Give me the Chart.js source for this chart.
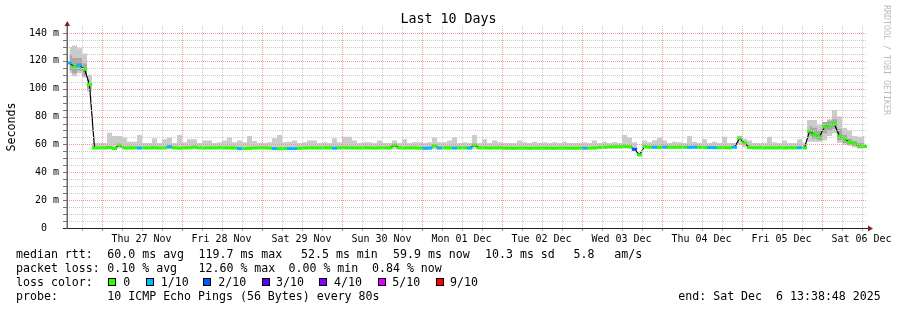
<!DOCTYPE html>
<html>
<head>
<meta charset="utf-8">
<title>Last 10 Days</title>
<script src="https://cdn.jsdelivr.net/npm/chart.js@4.4.1/dist/chart.umd.min.js"></script>
<style>
  html, body { margin: 0; padding: 0; background: #fff; }
  #wrap { position: relative; width: 897px; height: 310px; font-family: "DejaVu Sans Mono", monospace; color: #000; }
  #c { position: absolute; left: 0; top: 0; }
  .t { position: absolute; white-space: pre; font-size: 11.6px; line-height: 14px; }
  .box { position: absolute; width: 6px; height: 6px; border: 1px solid #000; top: 278px; }
  #title { position: absolute; left: 0; width: 897px; top: 11px; text-align: center; font-size: 13.3px; line-height: 16px; }
  #ylab { position: absolute; left: -19px; top: 120px; width: 60px; text-align: center; font-size: 11.6px; line-height: 14px; transform: rotate(-90deg); }
  #mark { position: absolute; left: 882px; top: 5px; writing-mode: vertical-rl; font-size: 8.3px; color: #bbb; white-space: pre; }
</style>
</head>
<body>
<div id="wrap">
  <canvas id="c" width="897" height="310"></canvas>
  <div id="title">Last 10 Days</div>
  <div id="ylab">Seconds</div>
  <div id="mark">RRDTOOL / TOBI OETIKER</div>
  <div id="legend"></div>
</div>
<script>
// ── Data: one column every 1.5 h ────────────────────────────────────────────
const STEP_H = 1.5;
const MIDNIGHT_OFFSET = 10.3533; // Wed 26 Nov 13:38:48 -> Thu 27 Nov 00:00

const dayLabels = ["Thu 27 Nov", "Fri 28 Nov", "Sat 29 Nov", "Sun 30 Nov", "Mon 01 Dec",
                   "Tue 02 Dec", "Wed 03 Dec", "Thu 04 Dec", "Fri 05 Dec", "Sat 06 Dec"];

// median rtt (ms)
const medianMs = [
  118.5, 115.5, 117, 114, 103, 57.5, 57.5, 57.5, 57.8, 57.0, 59.5, 57.5, 57.5, 57.6, 57.4, 57.5,
  57.5, 57.6, 57.4, 57.5, 58.3, 57.5, 57.3, 57.5, 57.6, 58.0, 57.5, 57.4, 57.5, 57.5, 57.6, 57.5,
  57.5, 57.4, 57.0, 57.0, 57.2, 57.4, 57.5, 57.5, 57.3, 57.0, 56.9, 57.0, 57.0, 57.0, 57.2, 57.4,
  57.5, 57.5, 57.4, 57.5, 57.5, 57.3, 57.5, 57.6, 57.5, 57.5, 57.4, 57.5, 57.5, 57.4, 57.5, 57.5,
  57.5, 59.5, 57.5, 57.4, 57.5, 57.5, 57.3, 57.2, 57.3, 59.0, 57.4, 57.5, 57.5, 57.4, 57.5, 57.5,
  57.4, 59.5, 57.5, 57.5, 57.4, 57.5, 57.5, 57.3, 57.3, 57.2, 57.3, 57.3, 57.2, 57.3, 57.3, 57.3,
  57.3, 57.2, 57.3, 57.3, 57.3, 57.2, 57.3, 57.3, 57.3, 57.4, 57.8, 58.0, 58.2, 58.3, 58.3, 58.5,
  58.3, 56.5, 52.5, 58.3, 58.0, 58.0, 57.9, 58.0, 58.0, 57.9, 58.0, 58.0, 57.9, 58.0, 57.9, 57.8,
  57.8, 57.7, 57.7, 57.7, 57.6, 58.0, 64.5, 61.0, 57.8, 57.6, 57.6, 57.5, 57.6, 57.5, 57.6, 57.5,
  57.6, 57.5, 57.6, 57.5, 69.5, 67.0, 65.5, 72.5, 74.0, 74.5, 66.0, 64.0, 61.5, 60.5, 58.8, 58.5
];

// outer smoke: highest and lowest ping (ms)
const smokeTopMs = [
  130, 131, 129, 125, 110, 61, 61, 61, 68.4, 66, 66, 65, 62, 62, 66.8, 61,
  61, 64.4, 61, 63.7, 65, 61, 66.8, 61.5, 63.7, 63.7, 61, 62.8, 62.8, 61, 61.5, 62.8,
  65, 61.5, 62.8, 61.5, 66, 62.5, 61, 61, 61.5, 64.4, 66.8, 61.5, 62, 62.8, 61, 61.5,
  62.8, 62.8, 61, 61.5, 61, 64.4, 61.5, 65.5, 65.5, 62.8, 61, 61.5, 61.5, 61, 62.8, 61,
  61, 62.8, 61, 63.7, 61, 61.5, 61.5, 61, 61.5, 65, 61.5, 61.5, 62.8, 65, 61, 61.5,
  61, 66.8, 61, 63.7, 61, 62.8, 61.5, 61, 61, 61, 62.8, 61.5, 61, 62, 61, 61.5,
  61, 61.5, 61, 62, 61, 61, 61, 61.5, 61, 62.8, 61, 62, 61, 61.5, 61, 66.8,
  65, 61.5, 54, 62.8, 61.5, 63, 65, 62.8, 61, 62, 61.5, 61, 66, 62, 61, 63.7,
  61, 62, 61, 65.5, 61, 61, 66.3, 64, 62.8, 61, 61, 61, 65.5, 61.5, 61, 62.8,
  61, 61, 63.7, 61, 77.5, 77.5, 74, 74, 78, 84.7, 80, 71.8, 70, 66, 65.5, 66
];
const smokeBotMs = [
  111, 109, 111, 108, 98, 56.5, 56.5, 56.5, 56.5, 56, 57, 56.5, 56.5, 56.5, 56.5, 56.5,
  56.5, 56.5, 56.5, 56.5, 56.5, 56.5, 56.5, 56.5, 56.5, 56.5, 56.5, 56.5, 56.5, 56.5, 56.5, 56.5,
  56.5, 56.5, 56, 56, 56, 56.5, 56.5, 56.5, 56.5, 56, 56, 56, 56, 56, 56, 56.5,
  56.5, 56.5, 56.5, 56.5, 56.5, 56.5, 56.5, 56.5, 56.5, 56.5, 56.5, 56.5, 56.5, 56.5, 56.5, 56.5,
  56.5, 56.5, 56.5, 56.5, 56.5, 56.5, 56.5, 56.5, 56.5, 56.5, 56.5, 56.5, 56.5, 56.5, 56.5, 56.5,
  56.5, 56.5, 56.5, 56.5, 56.5, 56.5, 56.5, 56.5, 56.5, 56.5, 56.5, 56.5, 56.5, 56.5, 56.5, 56.5,
  56.5, 56.5, 56.5, 56.5, 56.5, 56.5, 56.5, 56.5, 56.5, 56.5, 57, 57, 57, 57, 57, 57,
  57, 55.5, 52, 57, 57, 57, 57, 57, 57, 57, 57, 57, 57, 57, 57, 57,
  56.5, 56.5, 56.5, 56.5, 56.5, 57, 60, 58, 57, 56.5, 56.5, 56.5, 56.5, 56.5, 56.5, 56.5,
  56.5, 56.5, 56.5, 56.5, 62, 62, 62, 63, 66, 68, 61, 59.5, 59, 58, 57, 57
];

// inner (darker) smoke, only where it shows: first five and last twelve columns
const midTopStart = [124, 122, 122, 118, 106];
const midBotStart = [113, 111, 113, 109, 100];
const MID_END_FROM = 148;
const midTopEnd = [73, 72, 70, 76, 77, 78, 71, 67, 64, 62.5, 61, 61];
const midBotEnd = [66, 64, 63, 68, 70, 71, 63, 61, 60, 59, 57.5, 57.5];

// lost pings per column (out of 10)
const lossTenths = [
  1,0,1,0,0,0,0,0,0,0,0,0,0,0,1,0,
  0,0,0,0,1,0,0,0,0,0,0,0,0,0,0,0,
  0,0,1,0,0,0,0,0,0,1,0,0,1,1,0,0,
  0,0,0,0,0,1,0,0,0,0,0,0,0,0,0,0,
  0,0,0,0,0,0,0,1,1,0,1,0,0,1,0,0,
  1,0,0,0,0,0,0,0,0,0,0,0,0,0,0,0,
  0,0,0,0,0,0,0,1,0,0,0,0,0,0,0,0,
  0,2,0,0,0,1,0,1,0,0,0,0,1,1,0,0,
  1,1,0,0,0,1,0,0,0,0,0,0,0,0,0,0,
  0,0,1,0,0,0,0,0,0,0,0,0,0,0,0,0
];

const LOSS_COLORS = ["#26ff00", "#00b8ff", "#0059ff", "#5e00ff", "#7e00ff",
                     "#dd00ff", "#ff0000", "#ff0000", "#ff0000", "#ff0000", "#ff0000"];
const legendLoss = [["0", 0], ["1/10", 1], ["2/10", 2], ["3/10", 3], ["4/10", 4], ["5/10", 5], ["9/10", 9]];

// ── Helpers ─────────────────────────────────────────────────────────────────
const FONT = "DejaVu Sans Mono";
const GRID_MINOR = "#cbcbcb";
const GRID_MAJOR = "#f59a9a";
const X_TICKS = [];
for (let h = -6; h <= 228; h += 6) X_TICKS.push(h);
const Y_TICKS = [];
for (let v = 0; v <= 140; v += 5) Y_TICKS.push(v);
const xMajor = i => X_TICKS[i] % 24 === 0;
const yMajor = i => Y_TICKS[i] % 20 === 0;
const xAt = i => i * STEP_H + STEP_H / 2 - MIDNIGHT_OFFSET;
const pts = arr => arr.map((v, i) => ({ x: xAt(i), y: v }));

const midTop = medianMs.map(() => null);
const midBot = medianMs.map(() => null);
midTopStart.forEach((v, i) => { midTop[i] = v; midBot[i] = midBotStart[i]; });
midTopEnd.forEach((v, i) => { midTop[MID_END_FROM + i] = v; midBot[MID_END_FROM + i] = midBotEnd[i]; });

// ── Dotted rrdtool grid, drawn over the smoke ───────────────────────────────
const rrdGrid = {
  id: "rrdGrid",
  afterDatasetsDraw(chart) {
    const { ctx, chartArea: a, scales: { x, y } } = chart;
    ctx.save();
    ctx.lineWidth = 1;
    ctx.setLineDash([1, 1]);
    const line = (x0, y0, x1, y1, col) => {
      ctx.strokeStyle = col;
      ctx.beginPath(); ctx.moveTo(x0, y0); ctx.lineTo(x1, y1); ctx.stroke();
    };
    Y_TICKS.forEach((v, i) => {
      if (v === 0) return;
      const py = Math.round(y.getPixelForValue(v)) + 0.5;
      line(a.left, py, a.right, py, yMajor(i) ? GRID_MAJOR : GRID_MINOR);
    });
    X_TICKS.forEach((h, i) => {
      const px = Math.round(x.getPixelForValue(h)) + 0.5;
      line(px, a.top, px, a.bottom, xMajor(i) ? GRID_MAJOR : GRID_MINOR);
    });
    ctx.setLineDash([]);
    // tick marks outside the plot
    Y_TICKS.forEach(v => {
      const py = Math.round(y.getPixelForValue(v)) + 0.5;
      line(a.left - 4, py, a.left, py, "#777");
    });
    X_TICKS.forEach((h, i) => {
      const px = Math.round(x.getPixelForValue(h)) + 0.5;
      line(px, a.bottom, px, a.bottom + 3, xMajor(i) ? "#e06060" : "#aaa");
    });
    // axis lines and arrows
    line(a.left - 4, a.bottom + 0.5, a.right + 2, a.bottom + 0.5, "#222");
    ctx.lineWidth = 1.5;
    line(a.left + 0.25, a.bottom + 1, a.left + 0.25, a.top - 1, "#666");
    ctx.fillStyle = "#7f1f1f";
    ctx.beginPath();
    ctx.moveTo(a.left - 2.5, a.top);
    ctx.lineTo(a.left + 3, a.top);
    ctx.lineTo(a.left + 0.25, a.top - 5);
    ctx.closePath();
    ctx.fill();
    ctx.beginPath();
    ctx.moveTo(a.right + 1, a.bottom - 2.5);
    ctx.lineTo(a.right + 1, a.bottom + 3.5);
    ctx.lineTo(a.right + 6, a.bottom + 0.5);
    ctx.closePath();
    ctx.fill();
    ctx.restore();
  }
};

new Chart(document.getElementById("c"), {
  type: "line",
  data: {
    datasets: [
      { // median, coloured by loss
        data: pts(medianMs), showLine: false, pointStyle: "line", pointRadius: 2.6,
        pointBorderWidth: 3, pointBorderColor: lossTenths.map(l => LOSS_COLORS[l]), order: 0
      },
      { // thin median connector
        data: pts(medianMs), borderColor: "#000", borderWidth: 1.2, pointRadius: 0, order: 1
      },
      { data: pts(midBot), borderWidth: 0, pointRadius: 0, stepped: "middle", spanGaps: false, order: 3 },
      { data: pts(midTop), borderWidth: 0, pointRadius: 0, stepped: "middle", spanGaps: false,
        fill: 2, backgroundColor: "#a8a8a8", order: 2 },
      { data: pts(smokeBotMs), borderWidth: 0, pointRadius: 0, stepped: "middle", order: 5 },
      { data: pts(smokeTopMs), borderWidth: 0, pointRadius: 0, stepped: "middle",
        fill: 4, backgroundColor: "#cbcbcb", order: 4 }
    ]
  },
  options: {
    responsive: false,
    animation: false,
    events: [],
    layout: { padding: { left: 0, right: 30, top: 26, bottom: 62 } },
    plugins: { legend: { display: false }, tooltip: { enabled: false } },
    scales: {
      x: {
        type: "linear",
        min: -MIDNIGHT_OFFSET,
        max: 240 - MIDNIGHT_OFFSET,
        afterBuildTicks: s => { s.ticks = X_TICKS.map(value => ({ value })); },
        afterFit: s => { s.height = 20; },
        ticks: {
          autoSkip: false, maxRotation: 0, padding: 5, color: "#000",
          font: { family: FONT, size: 10 },
          callback: v => ((v - 12) % 24 === 0 ? dayLabels[(v - 12) / 24] : "")
        },
        grid: { display: false, drawTicks: false, tickLength: 0 },
        border: { display: false }
      },
      y: {
        min: 0,
        max: 145,
        afterBuildTicks: s => { s.ticks = Y_TICKS.map(value => ({ value })); },
        afterFit: s => { s.width = 67; },
        ticks: {
          autoSkip: false, padding: 8, color: "#000",
          font: { family: FONT, size: 10 },
          callback: v => (v % 20 ? "" : v === 0 ? "0  " : v + " m")
        },
        grid: { display: false, drawTicks: false, tickLength: 0 },
        border: { display: false }
      }
    }
  },
  plugins: [rrdGrid]
});

// ── Legend text under the graph ─────────────────────────────────────────────
const legendLines = [
  { y: 254, parts: [[16, "median rtt:"], [107.3, "60.0 ms avg"], [198.5, "119.7 ms max"], [301, "52.5 ms min"],
                    [393, "59.9 ms now"], [485, "10.3 ms sd"], [573.5, "5.8"], [614.3, "am/s"]] },
  { y: 268, parts: [[16, "packet loss:"], [107.3, "0.10 % avg"], [198.5, "12.60 % max"], [288.5, "0.00 % min"],
                    [372, "0.84 % now"]] },
  { y: 282, parts: [[16, "loss color:"]] },
  { y: 296, parts: [[16, "probe:"], [107.3, "10 ICMP Echo Pings (56 Bytes) every 80s"],
                    [678.3, "end: Sat Dec  6 13:38:48 2025"]] }
];
const boxX = [108.3, 145.7, 203.3, 261.7, 319.3, 377.7, 435.7];
const boxLabelX = [123.3, 160.7, 218.3, 276, 334, 392.3, 450];

const legend = document.getElementById("legend");
legendLines.forEach(line => {
  line.parts.forEach(([x, txt]) => {
    const d = document.createElement("div");
    d.className = "t";
    d.style.left = x + "px";
    d.style.top = (line.y - 7) + "px";
    d.textContent = txt;
    legend.appendChild(d);
  });
});
legendLoss.forEach(([label, loss], i) => {
  const b = document.createElement("div");
  b.className = "box";
  b.style.left = boxX[i] + "px";
  b.style.background = LOSS_COLORS[loss];
  legend.appendChild(b);
  const d = document.createElement("div");
  d.className = "t";
  d.style.left = boxLabelX[i] + "px";
  d.style.top = (282 - 7) + "px";
  d.textContent = label;
  legend.appendChild(d);
});
</script>
</body>
</html>
